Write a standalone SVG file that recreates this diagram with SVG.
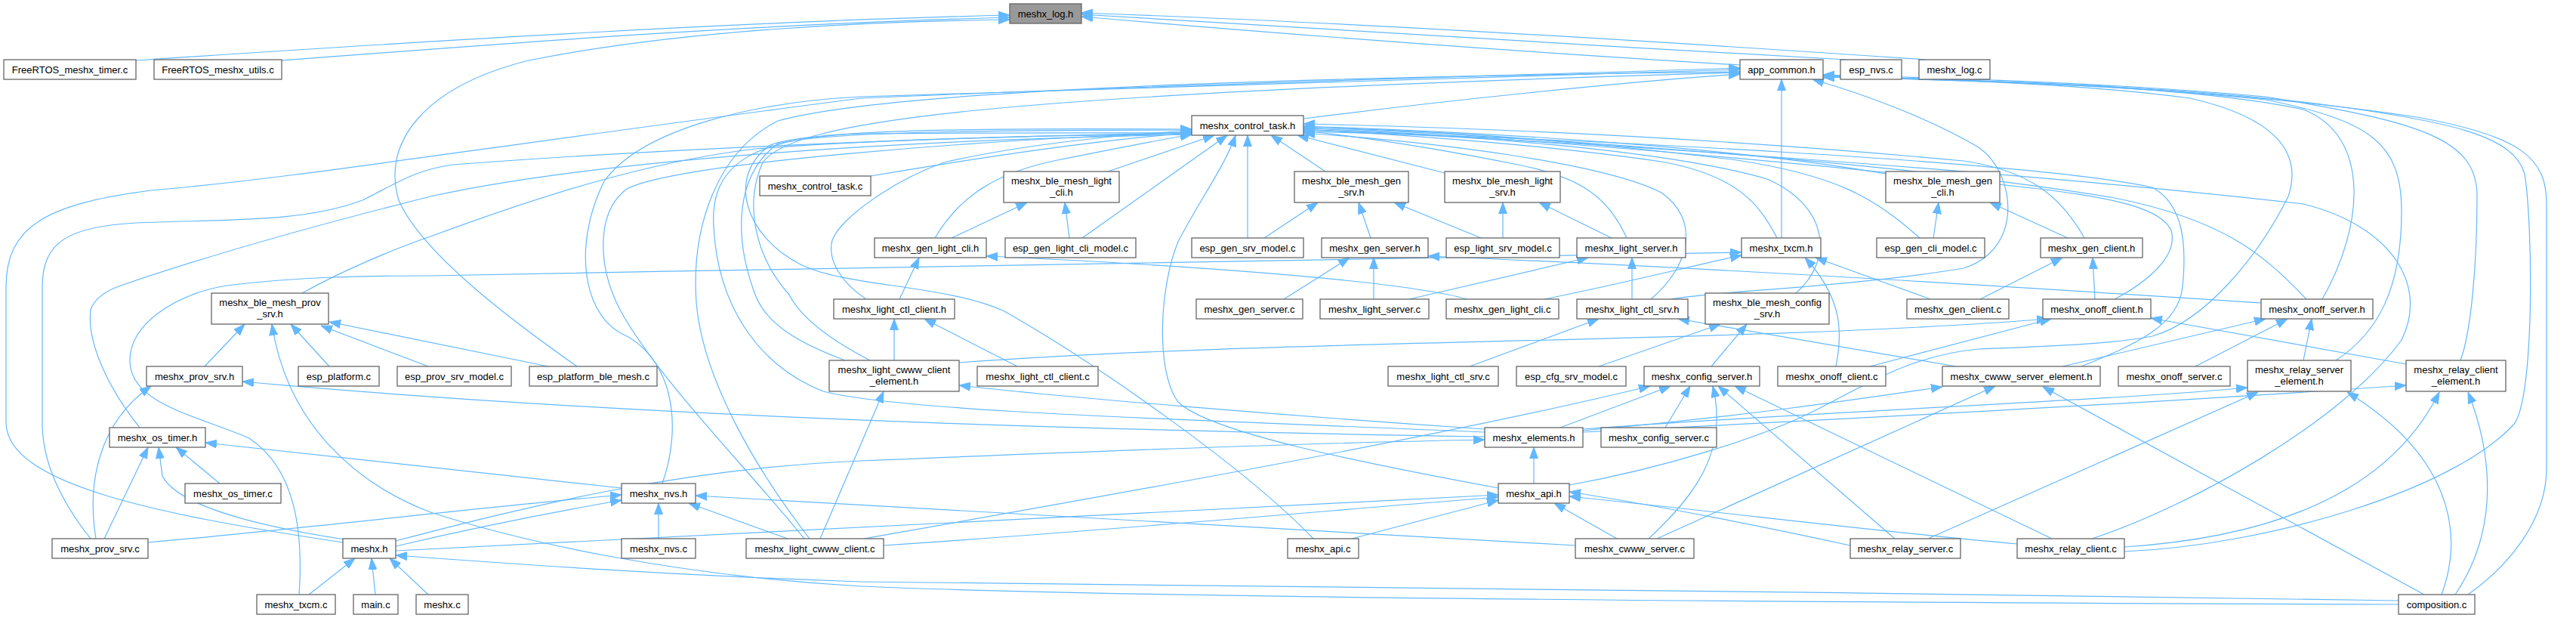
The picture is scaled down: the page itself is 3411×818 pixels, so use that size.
<svg xmlns="http://www.w3.org/2000/svg" width="3411" height="818" viewBox="0 0 3411 818">
<style>
.n rect{fill:#fff;stroke:#666;stroke-width:1.3}
.r rect{fill:#999;stroke:#666;stroke-width:1.3}
text{font-family:"Liberation Sans",Arial,Helvetica,sans-serif;font-size:13px;text-anchor:middle;fill:#000}
.e path{fill:none;stroke:#63b8ff;stroke-width:1.2;marker-end:url(#a)}
</style>
<defs>
<marker id="a" markerUnits="userSpaceOnUse" markerWidth="15" markerHeight="12" viewBox="0 0 15 12" refX="15" refY="6" orient="auto"><path d="M0,0.5L15,6L0,11.5z" fill="#63b8ff" stroke="#63b8ff"/></marker>
</defs>
<rect width="3411" height="818" fill="#fff"/>
<g id="edges" class="e">
<path d="M180,80 C600,52 1000,28 1337,20"/>
<path d="M373,80 C700,55 1000,32 1337,23"/>
<path d="M2304,86 C2000,68 1700,45 1432,22"/>
<path d="M2445,79 C2100,60 1700,35 1432,19"/>
<path d="M2550,79 C2200,55 1800,30 1432,17"/>
<path d="M764,485 C700,440 560,340 528,265 C505,190 560,115 700,80 C900,40 1150,28 1337,26"/>
<path d="M1726,157 C1900,135 2150,108 2304,98"/>
<path d="M2359,315 L2359,105"/>
<path d="M1153,233 C1300,208 1450,185 1578,176"/>
<path d="M1467,227 L1608,179"/>
<path d="M1433,315 L1625,179"/>
<path d="M1416,315 L1410,268"/>
<path d="M1238,315 C1270,260 1320,228 1400,212 C1480,196 1530,186 1578,178"/>
<path d="M1260,315 L1360,268"/>
<path d="M1652,315 L1652,179"/>
<path d="M1674,315 L1745,268"/>
<path d="M1755,227 L1683,179"/>
<path d="M1815,315 L1799,268"/>
<path d="M1961,315 L1846,268"/>
<path d="M1990,315 L1990,268"/>
<path d="M1913,229 L1718,179"/>
<path d="M2134,315 L2038,268"/>
<path d="M2154,315 C2130,262 2095,235 2010,218 C1910,198 1810,182 1726,173"/>
<path d="M1700,396 L1787,341"/>
<path d="M1943,396 C1850,370 1550,350 1306,339"/>
<path d="M1191,396 L1217,341"/>
<path d="M1819,396 L1819,341"/>
<path d="M1866,396 L2103,341"/>
<path d="M2045,396 C2150,375 2240,352 2306,338"/>
<path d="M2161,396 L2161,341"/>
<path d="M2186,396 C2240,350 2250,290 2200,255 C2120,215 1900,188 1726,176"/>
<path d="M2213,396 C2260,386 2450,380 2600,355 C2680,330 2670,230 2620,195 C2560,160 2480,128 2400,105"/>
<path d="M2353,315 C2330,270 2300,232 2200,214 C2050,192 1850,178 1726,171"/>
<path d="M2497,230 C2300,196 2000,176 1726,167"/>
<path d="M2542,315 C2480,260 2430,232 2300,212 C2100,187 1900,172 1726,169"/>
<path d="M2560,315 L2567,268"/>
<path d="M2760,315 C2730,262 2690,226 2600,213 C2300,185 2000,170 1726,164"/>
<path d="M2738,315 L2635,268"/>
<path d="M2622,396 L2731,341"/>
<path d="M2556,396 L2404,341"/>
<path d="M2774,396 L2771,341"/>
<path d="M2800,396 C2840,375 2885,340 2875,305 C2862,276 2800,262 2700,250 C2400,216 2000,180 1726,170"/>
<path d="M2476,485 L2716,422"/>
<path d="M2431,485 C2440,440 2440,395 2390,341"/>
<path d="M2378,388 C2430,342 2420,272 2340,237 C2200,196 1900,176 1726,172"/>
<path d="M2266,485 L2313,429"/>
<path d="M2117,485 L2278,429"/>
<path d="M396,787 C402,700 390,620 330,580 C260,550 175,535 172,480 C170,430 230,390 300,378 C400,366 480,365 570,365 C1200,352 1900,346 2306,334"/>
<path d="M2994,401 C2700,382 2300,356 1891,339"/>
<path d="M3054,396 C3000,340 2950,292 2800,262 C2500,212 2000,180 1726,168"/>
<path d="M3075,396 C3130,300 3140,180 3050,145 C2900,112 2600,106 2414,101"/>
<path d="M2907,485 L3029,422"/>
<path d="M3050,477 L3061,422"/>
<path d="M3093,477 C3150,440 3180,380 3180,280 C3180,190 3140,160 3000,132 C2800,112 2600,106 2414,100"/>
<path d="M3186,482 L2848,421"/>
<path d="M3258,477 C3272,440 3280,350 3280,260 C3280,185 3210,162 3000,128 C2800,110 2600,104 2414,99"/>
<path d="M2731,485 L3000,422"/>
<path d="M2756,485 C2830,455 2885,430 2890,380 C2896,320 2890,270 2850,248 C2700,215 2100,183 1726,174"/>
<path d="M2590,485 L2222,422"/>
<path d="M3210,787 L2705,512"/>
<path d="M3233,787 C3265,700 3240,600 3108,519"/>
<path d="M3251,787 C3310,700 3300,600 3268,519"/>
<path d="M3268,787 C3320,750 3372,690 3372,620 L3372,270 C3372,210 3340,180 3200,155 C2950,118 2700,108 2414,102"/>
<path d="M3176,795 C2500,785 1500,772 1140,770 C900,762 700,748 524,735"/>
<path d="M3176,800 C2500,798 1500,792 1140,776 C900,762 700,720 570,678 C470,640 380,560 360,429"/>
<path d="M2813,724 C2950,715 3150,680 3230,519"/>
<path d="M2813,730 C3000,722 3250,650 3330,560 C3356,520 3354,300 3343,230 C3328,180 3250,160 3050,135 C2850,112 2600,106 2414,100"/>
<path d="M2770,713 C2900,670 3100,560 3180,450 C3215,380 3170,300 3050,270 C2700,230 2100,186 1726,172"/>
<path d="M2717,713 L2297,511"/>
<path d="M2671,720 C2500,705 2300,680 2078,657"/>
<path d="M2553,713 L2990,519"/>
<path d="M2509,713 L2275,511"/>
<path d="M2450,722 C2350,700 2200,670 2078,651"/>
<path d="M2194,713 L2642,511"/>
<path d="M2183,713 C2240,660 2290,600 2268,511"/>
<path d="M2141,713 L2058,666"/>
<path d="M2086,722 C1700,700 1200,672 921,656"/>
<path d="M2096,570 C2300,552 2450,530 2572,512"/>
<path d="M2096,568 C2400,545 2800,530 2976,513"/>
<path d="M2096,572 C2500,552 2900,530 3186,510"/>
<path d="M2066,566 L2212,511"/>
<path d="M1966,578 C1600,572 900,558 321,505"/>
<path d="M1966,572 C1600,556 1200,546 1090,518 C1000,482 950,400 945,300 C940,222 990,182 1140,177 C1350,175 1500,176 1578,176"/>
<path d="M1966,568 C1700,550 1400,525 1270,510"/>
<path d="M2205,566 L2238,511"/>
<path d="M1946,485 L2117,422"/>
<path d="M2031,640 L2031,592"/>
<path d="M1984,646 C1800,612 1600,572 1560,532 C1530,492 1535,380 1560,320 C1590,262 1622,220 1636,179"/>
<path d="M2078,642 C2200,620 2330,580 2400,545 C2470,510 2530,470 2620,462 C2720,458 2800,455 2850,445 C2920,425 2990,340 3030,260 C3050,200 3010,155 2900,130 C2750,110 2550,104 2414,102"/>
<path d="M1790,713 L1984,662"/>
<path d="M1739,713 C1650,620 1450,480 1330,412 C1250,376 1120,380 1060,350 C985,312 962,232 1020,192 C1080,168 1400,170 1578,171"/>
<path d="M1043,713 L912,666"/>
<path d="M1086,713 L1170,518"/>
<path d="M1144,713 C1500,650 1900,580 2185,511"/>
<path d="M1065,713 C990,620 870,500 821,410 C790,350 790,280 830,250 C900,215 1300,185 1578,175"/>
<path d="M1072,713 C1000,620 930,500 922,400 C915,300 950,200 1030,160 C1200,112 1900,100 2304,95"/>
<path d="M1170,722 C1500,700 1800,672 1984,658"/>
<path d="M1184,477 L1184,422"/>
<path d="M1270,480 C1700,448 2300,455 2712,422"/>
<path d="M1119,477 C1060,455 1015,430 1000,390 C970,310 975,230 1030,190 C1100,172 1400,172 1578,172"/>
<path d="M1152,477 C1100,450 1060,420 1045,390 C1000,340 985,270 1010,215 C1050,160 1300,125 2304,96"/>
<path d="M1347,485 L1224,422"/>
<path d="M1147,396 C1115,375 1095,345 1102,318 C1112,290 1180,240 1250,215 C1350,192 1480,178 1578,173"/>
<path d="M877,640 C905,560 890,470 820,440 C770,410 760,320 800,240 C850,170 1000,135 1140,128 C1600,112 2000,100 2304,92"/>
<path d="M823,646 L272,586"/>
<path d="M872,713 L872,666"/>
<path d="M454,718 C200,680 10,640 8,560 L8,380 C8,300 60,270 200,252 C400,235 600,200 1140,130 C1600,110 2000,100 2304,90"/>
<path d="M456,714 C300,690 230,660 215,630 L210,592"/>
<path d="M524,723 C600,705 720,680 823,662"/>
<path d="M524,716 C700,670 900,620 1140,610 C1500,595 1800,585 1966,582"/>
<path d="M524,729 C900,710 1500,680 1984,655"/>
<path d="M409,787 L470,739"/>
<path d="M497,787 L492,739"/>
<path d="M567,787 L516,739"/>
<path d="M291,640 L233,592"/>
<path d="M138,713 L196,592"/>
<path d="M127,713 C115,640 130,560 200,511"/>
<path d="M196,718 C400,700 650,670 823,655"/>
<path d="M120,713 C70,650 56,600 56,560 L56,380 C56,320 90,300 180,295 C300,290 400,295 480,265 C530,240 550,225 600,218 C900,195 1300,180 1578,176"/>
<path d="M185,566 C140,510 115,450 120,410 C125,395 140,385 160,378 C300,330 450,290 570,260 C800,210 1200,185 1578,178"/>
<path d="M271,485 L324,429"/>
<path d="M436,485 L385,429"/>
<path d="M567,485 L425,431"/>
<path d="M726,485 L436,426"/>
<path d="M400,388 C450,360 520,330 570,313 C700,265 850,215 1000,197 C1200,182 1450,178 1578,178"/>
</g>
<g id="log_h" class="r"><rect x="1337" y="5" width="95" height="26"/><text x="1384.5" y="22.5">meshx_log.h</text></g>
<g id="rtos_timer" class="n"><rect x="5" y="79" width="175" height="26"/><text x="92.5" y="96.5">FreeRTOS_meshx_timer.c</text></g>
<g id="rtos_utils" class="n"><rect x="204" y="79" width="169" height="26"/><text x="288.5" y="96.5">FreeRTOS_meshx_utils.c</text></g>
<g id="app_common" class="n"><rect x="2304" y="79" width="110" height="26"/><text x="2359" y="96.5">app_common.h</text></g>
<g id="esp_nvs" class="n"><rect x="2437" y="79" width="81" height="26"/><text x="2477.5" y="96.5">esp_nvs.c</text></g>
<g id="log_c" class="n"><rect x="2541" y="79" width="94" height="26"/><text x="2588" y="96.5">meshx_log.c</text></g>
<g id="ctrl_h" class="n"><rect x="1578" y="153" width="148" height="26"/><text x="1652" y="170.5">meshx_control_task.h</text></g>
<g id="ctrl_c" class="n"><rect x="1006" y="233" width="147" height="26"/><text x="1079.5" y="250.5">meshx_control_task.c</text></g>
<g id="blm_light_cli" class="n"><rect x="1329" y="227" width="153" height="41"/><text x="1405.5" y="244">meshx_ble_mesh_light</text><text x="1405.5" y="259">_cli.h</text></g>
<g id="blm_gen_srv" class="n"><rect x="1714" y="227" width="151" height="41"/><text x="1789.5" y="244">meshx_ble_mesh_gen</text><text x="1789.5" y="259">_srv.h</text></g>
<g id="blm_light_srv" class="n"><rect x="1913" y="227" width="153" height="41"/><text x="1989.5" y="244">meshx_ble_mesh_light</text><text x="1989.5" y="259">_srv.h</text></g>
<g id="blm_gen_cli" class="n"><rect x="2497" y="227" width="151" height="41"/><text x="2572.5" y="244">meshx_ble_mesh_gen</text><text x="2572.5" y="259">_cli.h</text></g>
<g id="gen_light_cli_h" class="n"><rect x="1158" y="315" width="148" height="26"/><text x="1232" y="332.5">meshx_gen_light_cli.h</text></g>
<g id="esp_gen_light_cli_model" class="n"><rect x="1331" y="315" width="173" height="26"/><text x="1417.5" y="332.5">esp_gen_light_cli_model.c</text></g>
<g id="esp_gen_srv_model" class="n"><rect x="1578" y="315" width="148" height="26"/><text x="1652" y="332.5">esp_gen_srv_model.c</text></g>
<g id="gen_server_h" class="n"><rect x="1750" y="315" width="141" height="26"/><text x="1820.5" y="332.5">meshx_gen_server.h</text></g>
<g id="esp_light_srv_model" class="n"><rect x="1915" y="315" width="150" height="26"/><text x="1990" y="332.5">esp_light_srv_model.c</text></g>
<g id="light_server_h" class="n"><rect x="2088" y="315" width="144" height="26"/><text x="2160" y="332.5">meshx_light_server.h</text></g>
<g id="txcm_h" class="n"><rect x="2306" y="315" width="105" height="26"/><text x="2358.5" y="332.5">meshx_txcm.h</text></g>
<g id="esp_gen_cli_model" class="n"><rect x="2485" y="315" width="143" height="26"/><text x="2556.5" y="332.5">esp_gen_cli_model.c</text></g>
<g id="gen_client_h" class="n"><rect x="2702" y="315" width="135" height="26"/><text x="2769.5" y="332.5">meshx_gen_client.h</text></g>
<g id="blm_prov_srv" class="n"><rect x="280" y="388" width="155" height="41"/><text x="357.5" y="405">meshx_ble_mesh_prov</text><text x="357.5" y="420">_srv.h</text></g>
<g id="light_ctl_client_h" class="n"><rect x="1104" y="396" width="160" height="26"/><text x="1184" y="413.5">meshx_light_ctl_client.h</text></g>
<g id="gen_server_c" class="n"><rect x="1584" y="396" width="141" height="26"/><text x="1654.5" y="413.5">meshx_gen_server.c</text></g>
<g id="light_server_c" class="n"><rect x="1748" y="396" width="144" height="26"/><text x="1820" y="413.5">meshx_light_server.c</text></g>
<g id="gen_light_cli_c" class="n"><rect x="1915" y="396" width="149" height="26"/><text x="1989.5" y="413.5">meshx_gen_light_cli.c</text></g>
<g id="light_ctl_srv_h" class="n"><rect x="2088" y="396" width="147" height="26"/><text x="2161.5" y="413.5">meshx_light_ctl_srv.h</text></g>
<g id="blm_config_srv" class="n"><rect x="2258" y="388" width="164" height="41"/><text x="2340" y="405">meshx_ble_mesh_config</text><text x="2340" y="420">_srv.h</text></g>
<g id="gen_client_c" class="n"><rect x="2525" y="396" width="135" height="26"/><text x="2592.5" y="413.5">meshx_gen_client.c</text></g>
<g id="onoff_client_h" class="n"><rect x="2705" y="396" width="143" height="26"/><text x="2776.5" y="413.5">meshx_onoff_client.h</text></g>
<g id="onoff_server_h" class="n"><rect x="2994" y="396" width="148" height="26"/><text x="3068" y="413.5">meshx_onoff_server.h</text></g>
<g id="prov_srv_h" class="n"><rect x="194" y="485" width="127" height="26"/><text x="257.5" y="502.5">meshx_prov_srv.h</text></g>
<g id="esp_platform" class="n"><rect x="395" y="485" width="107" height="26"/><text x="448.5" y="502.5">esp_platform.c</text></g>
<g id="esp_prov_srv_model" class="n"><rect x="526" y="485" width="151" height="26"/><text x="601.5" y="502.5">esp_prov_srv_model.c</text></g>
<g id="esp_platform_ble_mesh" class="n"><rect x="701" y="485" width="169" height="26"/><text x="785.5" y="502.5">esp_platform_ble_mesh.c</text></g>
<g id="cwww_client_elem" class="n"><rect x="1098" y="477" width="172" height="41"/><text x="1184" y="494">meshx_light_cwww_client</text><text x="1184" y="509">_element.h</text></g>
<g id="light_ctl_client_c" class="n"><rect x="1294" y="485" width="160" height="26"/><text x="1374" y="502.5">meshx_light_ctl_client.c</text></g>
<g id="light_ctl_srv_c" class="n"><rect x="1838" y="485" width="146" height="26"/><text x="1911" y="502.5">meshx_light_ctl_srv.c</text></g>
<g id="esp_cfg_srv_model" class="n"><rect x="2008" y="485" width="145" height="26"/><text x="2080.5" y="502.5">esp_cfg_srv_model.c</text></g>
<g id="config_server_h" class="n"><rect x="2177" y="485" width="153" height="26"/><text x="2253.5" y="502.5">meshx_config_server.h</text></g>
<g id="onoff_client_c" class="n"><rect x="2354" y="485" width="143" height="26"/><text x="2425.5" y="502.5">meshx_onoff_client.c</text></g>
<g id="cwww_server_elem" class="n"><rect x="2572" y="485" width="209" height="26"/><text x="2676.5" y="502.5">meshx_cwww_server_element.h</text></g>
<g id="onoff_server_c" class="n"><rect x="2805" y="485" width="148" height="26"/><text x="2879" y="502.5">meshx_onoff_server.c</text></g>
<g id="relay_server_elem" class="n"><rect x="2976" y="477" width="137" height="41"/><text x="3044.5" y="494">meshx_relay_server</text><text x="3044.5" y="509">_element.h</text></g>
<g id="relay_client_elem" class="n"><rect x="3186" y="477" width="132" height="41"/><text x="3252" y="494">meshx_relay_client</text><text x="3252" y="509">_element.h</text></g>
<g id="os_timer_h" class="n"><rect x="145" y="566" width="127" height="26"/><text x="208.5" y="583.5">meshx_os_timer.h</text></g>
<g id="elements_h" class="n"><rect x="1966" y="566" width="130" height="26"/><text x="2031" y="583.5">meshx_elements.h</text></g>
<g id="config_server_c" class="n"><rect x="2120" y="566" width="153" height="26"/><text x="2196.5" y="583.5">meshx_config_server.c</text></g>
<g id="os_timer_c" class="n"><rect x="245" y="640" width="127" height="26"/><text x="308.5" y="657.5">meshx_os_timer.c</text></g>
<g id="nvs_h" class="n"><rect x="823" y="640" width="98" height="26"/><text x="872" y="657.5">meshx_nvs.h</text></g>
<g id="api_h" class="n"><rect x="1984" y="640" width="94" height="26"/><text x="2031" y="657.5">meshx_api.h</text></g>
<g id="prov_srv_c" class="n"><rect x="69" y="713" width="127" height="26"/><text x="132.5" y="730.5">meshx_prov_srv.c</text></g>
<g id="meshx_h" class="n"><rect x="454" y="713" width="70" height="26"/><text x="489" y="730.5">meshx.h</text></g>
<g id="nvs_c" class="n"><rect x="823" y="713" width="98" height="26"/><text x="872" y="730.5">meshx_nvs.c</text></g>
<g id="light_cwww_client_c" class="n"><rect x="988" y="713" width="182" height="26"/><text x="1079" y="730.5">meshx_light_cwww_client.c</text></g>
<g id="api_c" class="n"><rect x="1705" y="713" width="94" height="26"/><text x="1752" y="730.5">meshx_api.c</text></g>
<g id="cwww_server_c" class="n"><rect x="2086" y="713" width="157" height="26"/><text x="2164.5" y="730.5">meshx_cwww_server.c</text></g>
<g id="relay_server_c" class="n"><rect x="2450" y="713" width="146" height="26"/><text x="2523" y="730.5">meshx_relay_server.c</text></g>
<g id="relay_client_c" class="n"><rect x="2671" y="713" width="142" height="26"/><text x="2742" y="730.5">meshx_relay_client.c</text></g>
<g id="txcm_c" class="n"><rect x="340" y="787" width="104" height="26"/><text x="392" y="804.5">meshx_txcm.c</text></g>
<g id="main_c" class="n"><rect x="468" y="787" width="59" height="26"/><text x="497.5" y="804.5">main.c</text></g>
<g id="meshx_c" class="n"><rect x="551" y="787" width="69" height="26"/><text x="585.5" y="804.5">meshx.c</text></g>
<g id="composition_c" class="n"><rect x="3176" y="787" width="101" height="26"/><text x="3226.5" y="804.5">composition.c</text></g>
</svg>
